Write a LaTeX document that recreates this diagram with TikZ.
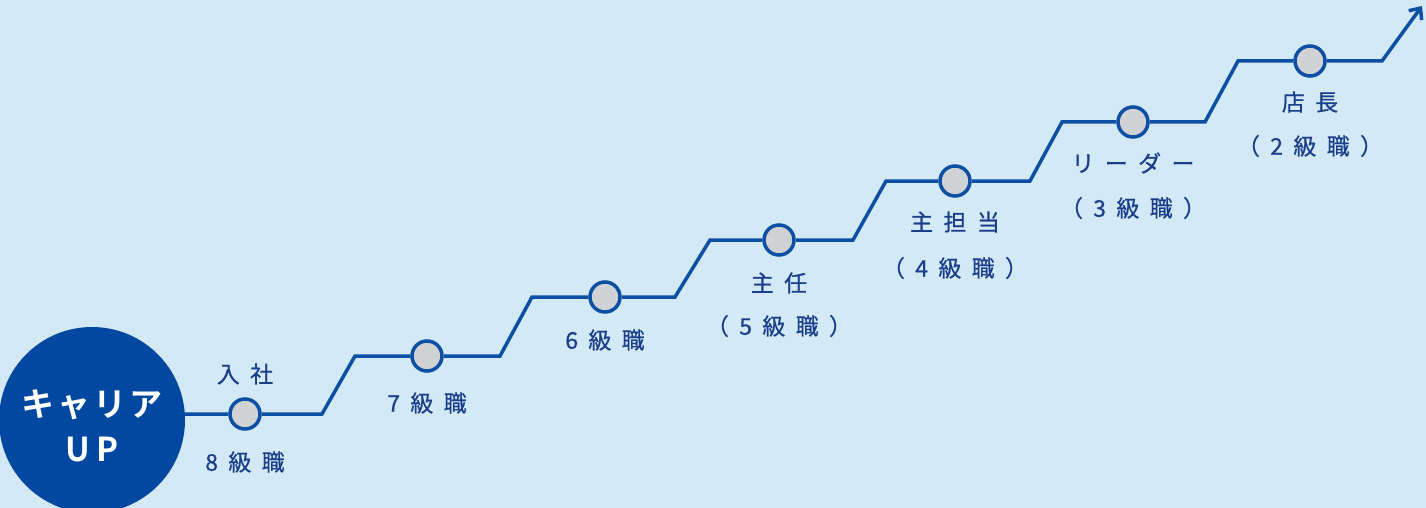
\documentclass[tikz,border=0pt]{standalone}
\usepackage{fontspec}
\setmainfont{Noto Sans CJK JP}[LetterSpace=45,FakeBold=0.6]
\newfontfamily\boldcjk{Noto Sans CJK JP Bold}[LetterSpace=10]
\usetikzlibrary{arrows.meta}
\definecolor{bg}{HTML}{D3EAF6}
\definecolor{ln}{HTML}{0D4FA3}
\definecolor{big}{HTML}{0348A0}
\definecolor{tx}{HTML}{1A3E8A}
\definecolor{dot}{HTML}{D0D2D6}
\begin{document}
\begin{tikzpicture}[x=1pt,y=-1pt,
  stepdot/.style={circle,draw=ln,line width=3.5pt,fill=dot,minimum size=30pt,inner sep=0pt},
  lbl/.style={text=tx,font=\fontsize{23}{26}\selectfont,inner sep=0pt,align=center}]
\useasboundingbox (0,0) rectangle (1426,508);
\fill[bg] (0,0) rectangle (1426,508);
\node[stepdot] (d1) at (245,414) {};
\node[stepdot] (d2) at (427,356) {};
\node[stepdot] (d3) at (605,297) {};
\node[stepdot] (d4) at (779,240) {};
\node[stepdot] (d5) at (955,181) {};
\node[stepdot] (d6) at (1133,122) {};
\node[stepdot] (d7) at (1310,61) {};
\coordinate (s0) at (184,414);
\coordinate (e) at (1422,6);
\draw[ln,line width=3.5pt,line join=miter,-{Straight Barb[length=9pt,width=16pt]}]
 (s0) -- (d1.west) (d1.east) -- (322,414) -- (355,356) -- (d2.west) (d2.east) -- (500,356) -- (532,297) -- (d3.west)
 (d3.east) -- (675,297) -- (710,240) -- (d4.west) (d4.east) -- (853,240) -- (886,181) -- (d5.west)
 (d5.east) -- (1030,181) -- (1062,122) -- (d6.west) (d6.east) -- (1205,122) -- (1238,61) -- (d7.west)
 (d7.east) -- (1382,61) -- (e);
\fill[big] (92,420) circle (93);
\node[text=white,font=\boldcjk\fontsize{33}{35}\selectfont,inner sep=0pt] (c1) at (92,405) {キャリア};
\node[text=white,font=\boldcjk\fontsize{33}{35}\selectfont,inner sep=0pt] (c2) at (92,450) {U\,P};
\node[lbl] (l1a) at (245,374) {入社};
\node[lbl] (l1b) at (245,462) {8級職};
\node[lbl] (l2) at (427,403) {7級職};
\node[lbl] (l3) at (605,340) {6級職};
\node[lbl] (l4a) at (779,283) {主任};
\node[lbl] (l4b) at (779,326) {（5級職）};
\node[lbl] (l5a) at (955,222) {主担当};
\node[lbl] (l5b) at (955,268) {（4級職）};
\node[lbl] (l6a) at (1133,163) {リーダー};
\node[lbl] (l6b) at (1133,208) {（3級職）};
\node[lbl] (l7a) at (1310,102) {店長};
\node[lbl] (l7b) at (1310,146) {（2級職）};
\end{tikzpicture}
\end{document}
